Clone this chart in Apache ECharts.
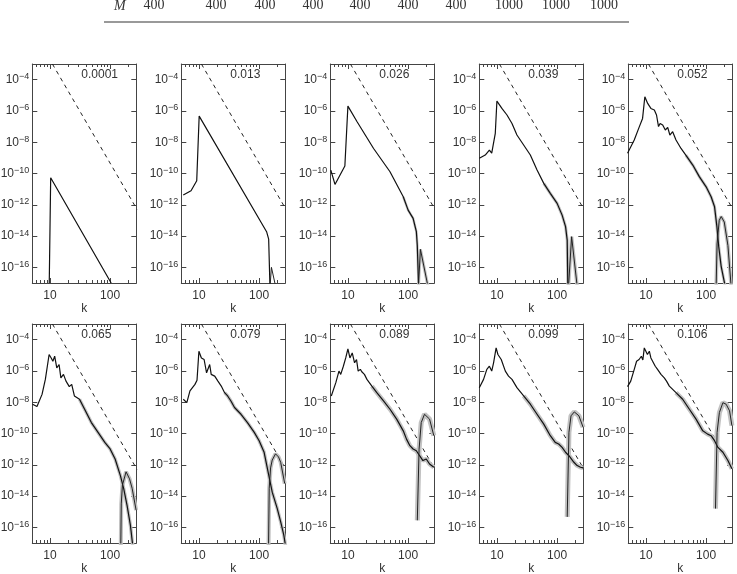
<!DOCTYPE html>
<html>
<head>
<meta charset="utf-8">
<script src="https://cdn.jsdelivr.net/npm/echarts@6/dist/echarts.min.js"></script>
<style>
html, body { margin: 0; padding: 0; background: #fff; }
#chart { width: 737px; height: 574px; }
</style>
</head>
<body>
<div id="chart"></div>
<script>
// header row
var headerLabels = ['400', '400', '400', '400', '400', '400', '400', '1000', '1000', '1000'];
var headerX = [154, 216, 265, 313, 360, 408, 456, 509, 556, 604];

// panel labels (time)
var times = ['0.0001', '0.013', '0.026', '0.039', '0.052', '0.065', '0.079', '0.089', '0.099', '0.106'];

// axis ticks
var kTicks = [10, 100];
var kMinor = [6, 7, 8, 9, 20, 30, 40, 50, 60, 70, 80, 90, 200];
var eTicks = [1e-4, 1e-6, 1e-8, 1e-10, 1e-12, 1e-14, 1e-16];

// spectra: [k, log10 E]
var main0 = [[9.75,-17],[10.3,-10.27],[104,-17]];
var main1 = [[5.5,-11.38],[7.4,-11.1],[9.2,-10.46],[10.1,-6.33],[133,-13.72],[144,-14.2],[152,-17.5]];
var main2 = [[5.2,-9.78],[6.1,-10.7],[8.9,-9.52],[10,-5.69],[14.2,-6.69],[26.7,-8.4],[50,-9.89],[83,-11.49],[100,-12.34],[121,-12.87],[137,-13.72],[142,-14.6],[150,-17.5]];
var main3 = [[5.1,-9.03],[6.4,-8.82],[7.5,-8.5],[8.2,-8.7],[9.4,-7.43],[10,-5.37],[12.1,-5.84],[14.7,-6.26],[17.8,-6.8],[21.5,-7.54],[23,-7.45],[27.8,-8.18],[35.9,-8.82],[46.4,-9.78],[60,-10.63],[77,-11.27],[100,-11.91],[121,-12.66],[138,-13.4],[147,-14.26],[151,-17.5]];
var main4 = [[4.95,-8.71],[5.3,-8.68],[6.4,-7.86],[7.7,-7.05],[8.8,-6.48],[9.6,-5.09],[10.7,-5.52],[12.1,-5.84],[13.8,-5.94],[15,-6.26],[16.2,-7.0],[17.2,-6.8],[19,-6.9],[21,-7.22],[23,-7.05],[25,-7.54],[27.8,-7.33],[31.6,-7.86],[38.3,-8.4],[46,-8.82],[60,-9.46],[77,-10.2],[100,-10.85],[121,-11.49],[138,-12.13],[151,-13.4],[162,-14.68],[178,-15.96],[207,-17.2]];
var main5 = [[5.15,-8.13],[6.1,-8.28],[7.4,-7.5],[8.4,-6.54],[9.7,-4.95],[10.5,-5.17],[11.2,-5.38],[12,-5.06],[13,-5.8],[14.2,-5.59],[15.2,-6.44],[16.8,-6.22],[18.5,-6.65],[21,-7.0],[23,-6.86],[25.5,-7.6],[31,-7.81],[37.7,-8.45],[48.8,-9.3],[63,-9.93],[81.6,-10.57],[100,-10.99],[121,-11.63],[148,-12.69],[168,-13.53],[191,-14.59],[217,-15.86],[238,-17.2]];
var main6 = [[5.5,-7.81],[6.3,-8.03],[7.1,-7.28],[8.6,-6.86],[9.3,-6.6],[10,-4.74],[11,-5.17],[12.2,-5.27],[13.4,-6.12],[14.2,-6.0],[15.1,-5.59],[16,-6.22],[18.3,-6.33],[20.7,-6.65],[23.5,-6.97],[26.7,-7.39],[30,-7.6],[34,-7.92],[39,-8.34],[50,-8.77],[64,-9.3],[83,-9.93],[100,-10.46],[121,-11.2],[145,-12.69],[165,-13.75],[200,-14.8],[228,-15.65],[257,-16.5],[275,-17.2]];
var main7 = [[5.3,-7.6],[6.3,-6.75],[7.1,-6.01],[7.6,-6.22],[8.4,-5.7],[9.2,-5.17],[10,-4.59],[10.8,-5.17],[11.8,-4.85],[12.9,-5.48],[13.9,-5.27],[14.8,-6.01],[16.1,-5.9],[17,-6.05],[18.8,-6.22],[20.7,-6.54],[25,-6.97],[30.2,-7.39],[39,-7.92],[50,-8.45],[64.5,-9.08],[83,-9.83],[94,-10.36],[107,-10.78],[121,-10.99],[137,-11.1],[155,-11.42],[176,-11.73],[200,-11.63],[227,-11.95],[267,-12.16]];
var main8 = [[5.1,-7.07],[6,-6.54],[6.8,-5.9],[7.5,-5.7],[8.2,-6.01],[8.8,-5.48],[9.7,-4.53],[10.4,-4.95],[11.1,-4.85],[11.8,-5.27],[12.6,-5.17],[13.8,-6.01],[15.6,-6.33],[17.8,-6.54],[21.5,-7.07],[27.8,-7.6],[35.9,-8.13],[46.4,-8.77],[60,-9.4],[77,-10.14],[93,-10.57],[106,-10.67],[121,-10.89],[138,-11.2],[157,-11.42],[190,-11.84],[215,-12.05],[245,-12.16],[270,-12.2]];
var main9 = [[4.95,-7.0],[5.6,-6.65],[6.4,-5.9],[7,-5.38],[7.7,-5.27],[8.4,-5.06],[8.9,-5.3],[9.4,-4.53],[10,-4.64],[10.6,-4.95],[11.4,-4.74],[12.1,-5.17],[12.9,-5.27],[14.3,-5.7],[15.6,-5.9],[17.8,-6.22],[20.2,-6.44],[22,-6.65],[24.5,-6.97],[31.6,-7.39],[40.8,-7.81],[52.7,-8.45],[68,-9.08],[88,-9.83],[106,-10.04],[121,-10.14],[138,-10.46],[157,-10.89],[190,-11.2],[230,-11.73],[268,-12.26]];

// high-k bump
var hump0 = [];
var hump1 = [[150,-17.5],[160,-16],[190,-17.3]];
var hump2 = [[147,-17.5],[160,-14.85],[213,-17.2]];
var hump3 = [[153,-17.5],[174,-14.04],[215,-17.2]];
var hump4 = [[146,-17.5],[152,-14.5],[165,-13.0],[178,-12.75],[200,-13.1],[230,-14.6],[260,-17.2]];
var hump5 = [[150,-17.5],[153,-14.5],[160,-13.3],[184,-12.45],[210,-12.9],[232,-13.5],[270,-14.9]];
var hump6 = [[143,-17.5],[147,-13.5],[155,-12.2],[165,-11.7],[187,-11.3],[210,-11.5],[228,-11.84],[266,-13.2]];
var hump7 = [[142,-15.55],[152,-11],[165,-9.3],[187,-8.77],[227,-9.08],[267,-10.14]];
var hump8 = [[147,-15.33],[157,-9.93],[170,-8.87],[193,-8.62],[230,-8.87],[270,-9.6]];
var hump9 = [[143,-14.8],[152,-9.93],[166,-8.66],[190,-8.03],[215,-8.13],[245,-8.55],[268,-9.5]];

// reference slope (dashed)
var slopeLine = [[11,-3],[280,-12.3]];

// grey band: starting k and width
var bandFrom = [999, 999, 60, 50, 40, 30, 25, 25, 25, 25];
var bandWidth = [0, 0, 2.5, 3, 3, 3.5, 3.5, 4.5, 4.5, 4.5];

var mains = [main0, main1, main2, main3, main4, main5, main6, main7, main8, main9];
var humps = [hump0, hump1, hump2, hump3, hump4, hump5, hump6, hump7, hump8, hump9];

var kMin = 5.1, kMax = 272;
var panelLeft = [32.3, 181.3, 330.3, 479.3, 628.3];
var rowTop = [64, 324];
var panelW = 104, panelH = 219;
var sans = 'Liberation Sans';
var axisCol = '#444';
var bandCol = '#c2c2c2';

function toPts(arr) {
	return arr.map(function (p) { return [p[0], Math.pow(10, p[1])]; });
}

var grid = [], xAxis = [], yAxis = [], series = [], title = [];

for (var i = 0; i < 10; i++) {
	var col = i % 5, row = Math.floor(i / 5);
	grid.push({ left: panelLeft[col], top: rowTop[row], width: panelW, height: panelH, outerBoundsMode: 'none' });

	var xs = ['bottom', 'bottom', 'top', 'top'];
	for (var j = 0; j < 4; j++) {
		var major = (j % 2 == 0);
		xAxis.push({
			type: 'log', logBase: 10, gridIndex: i, position: xs[j], offset: 0,
			min: kMin, max: kMax,
			name: (j == 0) ? 'k' : '',
			nameLocation: 'middle', nameGap: 18,
			nameTextStyle: { fontFamily: sans, fontSize: 12, color: '#333' },
			splitLine: { show: false },
			axisLine: { show: major, lineStyle: { color: axisCol, width: 1 } },
			axisTick: { show: true, inside: true, length: major ? 5 : 3, customValues: major ? kTicks : kMinor, lineStyle: { color: axisCol, width: 1 } },
			axisLabel: { show: j == 0, customValues: kTicks, margin: 7, fontFamily: sans, fontSize: 12, color: '#333' }
		});
	}
	var ys = ['left', 'right'];
	for (var j = 0; j < 2; j++) {
		yAxis.push({
			type: 'log', logBase: 10, gridIndex: i, position: ys[j], offset: 0,
			min: 1e-17, max: 1e-3,
			splitLine: { show: false },
			axisLine: { show: true, lineStyle: { color: axisCol, width: 1 } },
			axisTick: { show: true, inside: true, length: 5, customValues: eTicks, lineStyle: { color: axisCol, width: 1 } },
			axisLabel: {
				show: j == 0, customValues: eTicks, margin: 3,
				formatter: function (v) {
					var e = Math.round(Math.log(v) / Math.LN10);
					return '{b|10}{s|\u2212' + (-e) + '}';
				},
				rich: {
					b: { fontFamily: sans, fontSize: 12, color: '#333', lineHeight: 15 },
					s: { fontFamily: sans, fontSize: 9, color: '#333', verticalAlign: 'top', lineHeight: 10 }
				}
			}
		});
	}

	title.push({
		text: times[i], left: panelLeft[col] + 49, top: rowTop[row] + 5, padding: 0,
		textStyle: { fontFamily: sans, fontSize: 12, fontWeight: 'normal', color: '#333' }
	});

	var common = { type: 'line', xAxisIndex: 4 * i, yAxisIndex: 2 * i, symbol: 'none', silent: true, animation: false };

	series.push(Object.assign({}, common, {
		data: toPts(slopeLine), lineStyle: { color: '#222', width: 1, type: [4, 4] }
	}));
	if (bandWidth[i] > 0) {
		var bf = bandFrom[i];
		series.push(Object.assign({}, common, {
			data: toPts(mains[i].filter(function (p) { return p[0] >= bf; })),
			lineStyle: { color: bandCol, width: bandWidth[i] }
		}));
		series.push(Object.assign({}, common, {
			data: toPts(humps[i]), lineStyle: { color: bandCol, width: bandWidth[i] + 0.5 }
		}));
	}
	series.push(Object.assign({}, common, {
		data: toPts(mains[i]), lineStyle: { color: '#111', width: 1.2 }
	}));
	if (humps[i].length) {
		series.push(Object.assign({}, common, {
			data: toPts(humps[i]), lineStyle: { color: '#222', width: 1 }
		}));
	}
}

var graphic = [];
graphic.push({ type: 'text', left: 114, top: -1, style: { text: 'M', fontFamily: 'Liberation Serif', fontStyle: 'italic', fontSize: 14, fill: '#333' } });
for (var h = 0; h < headerLabels.length; h++) {
	graphic.push({ type: 'text', x: headerX[h], y: 5, style: { text: headerLabels[h], fontFamily: 'Liberation Serif', fontSize: 14, fill: '#333', align: 'center', verticalAlign: 'middle' } });
}
graphic.push({ type: 'line', shape: { x1: 104, y1: 22, x2: 629, y2: 22 }, style: { stroke: '#777', lineWidth: 1.5 } });

var myChart = echarts.init(document.getElementById('chart'));
myChart.setOption({
	animation: false,
	backgroundColor: '#fff',
	title: title,
	grid: grid,
	xAxis: xAxis,
	yAxis: yAxis,
	series: series,
	graphic: graphic
});
</script>
</body>
</html>
